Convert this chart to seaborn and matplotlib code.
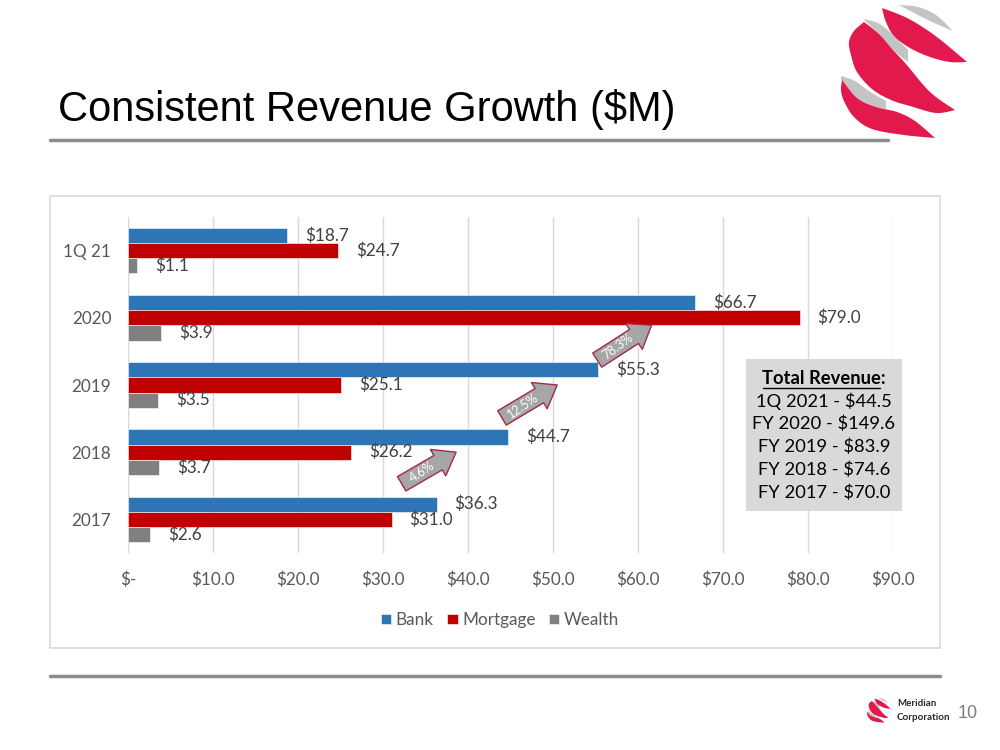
import matplotlib
matplotlib.use("Agg")
import matplotlib.pyplot as plt
import numpy as np
import pandas as pd
import seaborn as sns
from matplotlib.lines import Line2D
from matplotlib.patches import Polygon, Rectangle

periods = ["1Q 21", "2020", "2019", "2018", "2017"]
segments = ["Bank", "Mortgage", "Wealth"]
bank = [18.7, 66.7, 55.3, 44.7, 36.3]
mortgage = [24.7, 79.0, 25.1, 26.2, 31.0]
wealth = [1.1, 3.9, 3.5, 3.7, 2.6]
x_ticks = [0, 10, 20, 30, 40, 50, 60, 70, 80, 90]
x_tick_labels = ["$-", "$10.0", "$20.0", "$30.0", "$40.0", "$50.0",
                 "$60.0", "$70.0", "$80.0", "$90.0"]
growth_labels = ["4.6%", "12.5%", "78.3%"]
total_lines = ["1Q 2021 - $44.5", "FY 2020 - $149.6", "FY 2019 - $83.9",
               "FY 2018 - $74.6", "FY 2017 - $70.0"]

colors = {"Bank": "#2E75B6", "Mortgage": "#C00000", "Wealth": "#808080"}

sns.set_style("white")
plt.rcParams["font.family"] = ["Lato", "DejaVu Sans"]

df = pd.DataFrame({
  "period": periods * 3,
  "segment": [s for s in segments for _ in periods],
  "revenue": bank + mortgage + wealth,
})

fig = plt.figure(figsize=(10, 7.5), dpi=100)
W, H = 1000, 750


def fig_xy(px, py):
  return px / W, 1 - py / H


# chart frame
fig.patches.append(Rectangle(fig_xy(50, 648), 890 / W, 452 / H, transform=fig.transFigure,
                             fill=False, ec="#D9D9D9", lw=1.2))

ax = fig.add_axes([128 / W, 1 - 553 / H, 765 / W, 336 / H])
sns.barplot(data=df, y="period", x="revenue", hue="segment", order=periods,
            hue_order=segments, palette=colors, orient="h", width=0.68,
            saturation=1, ax=ax, legend=True, edgecolor="white", linewidth=0.4)

ax.set_xlim(0, 90)
ax.set_xticks(x_ticks)
ax.set_xticklabels(x_tick_labels)
ax.set_xlabel("")
ax.set_ylabel("")
ax.grid(axis="x", color="#D9D9D9", lw=1)
ax.set_axisbelow(True)
for side in ["top", "right", "bottom", "left"]:
  ax.spines[side].set_visible(False)
ax.axvline(0, color="#D9D9D9", lw=1, zorder=0)
ax.tick_params(axis="x", length=0, pad=13, labelsize=12.3, labelcolor="#595959")
ax.tick_params(axis="y", length=0, pad=12, labelsize=12.3, labelcolor="#595959")

for cont in ax.containers:
  ax.bar_label(cont, fmt="${:.1f}", padding=13, fontsize=12.3, color="#404040")

handles, labels = ax.get_legend_handles_labels()
ax.get_legend().remove()
fig.legend(handles, labels, loc="center", bbox_to_anchor=fig_xy(500, 620), ncol=3,
           frameon=False, fontsize=12.3, handlelength=0.6, handleheight=0.6,
           handletextpad=0.25, columnspacing=0.8, labelcolor="#595959")

# growth arrows (tail, tip in data coords)
arrow_tails = [(32.2, 3.47), (44.0, 2.49), (55.2, 1.63)]
arrow_tips = [(38.6, 3.0), (50.5, 2.0), (61.6, 1.11)]
for lab, tail, tip in zip(growth_labels, arrow_tails, arrow_tips):
  ax.annotate("", xy=tip, xytext=tail,
              arrowprops=dict(arrowstyle="simple,head_length=0.75,head_width=1.1,tail_width=0.6",
                              mutation_scale=20, fc="#A6A6A6", ec="#A32A4C", lw=1,
                              shrinkA=0, shrinkB=0), zorder=5)
  p0 = ax.transData.transform(tail)
  p1 = ax.transData.transform(tip)
  ang = np.degrees(np.arctan2(p1[1] - p0[1], p1[0] - p0[0]))
  mx = tail[0] + 0.38 * (tip[0] - tail[0])
  my = tail[1] + 0.38 * (tip[1] - tail[1])
  ax.text(mx, my, lab, rotation=ang + 4, rotation_mode="anchor", ha="center", va="center",
          color="white", fontsize=9, zorder=6)

# total revenue box
fig.patches.append(Rectangle(fig_xy(746, 511), 156 / W, 152 / H, transform=fig.transFigure,
                             fc="#D9D9D9", ec="none"))
tx = 824 / W
fig.text(tx, 1 - 378 / H, "Total Revenue:", ha="center", va="center",
         fontsize=13.2, fontweight="bold", color="black")
fig.lines.append(Line2D([763 / W, 880 / W], [1 - 388 / H, 1 - 388 / H],
                        transform=fig.transFigure, color="black", lw=1))
for i, line in enumerate(total_lines):
  fig.text(tx, 1 - (401 + 23 * i) / H, line, ha="center", va="center",
           fontsize=13.2, color="black")

# title and rules
fig.text(58 / W, 1 - 110 / H, "Consistent Revenue Growth ($M)", ha="left", va="center",
         fontsize=30, family="Liberation Sans", color="black")
fig.lines.append(Line2D([50 / W, 888 / W], [1 - 140 / H] * 2, transform=fig.transFigure,
                        color="#8C8C8C", lw=2.5))
fig.lines.append(Line2D([50 / W, 940 / W], [1 - 676 / H] * 2, transform=fig.transFigure,
                        color="#8C8C8C", lw=2.5))


def smooth(pts, n=12):
  # Catmull-Rom through the outline points
  pts = np.asarray(pts, float)
  ext = np.vstack([pts[0], pts, pts[-1]])
  out = []
  for i in range(1, len(ext) - 2):
    p0, p1, p2, p3 = ext[i - 1], ext[i], ext[i + 1], ext[i + 2]
    for t in np.linspace(0, 1, n, endpoint=False):
      t2, t3 = t * t, t * t * t
      out.append(0.5 * (2 * p1 + (-p0 + p2) * t + (2 * p0 - 5 * p1 + 4 * p2 - p3) * t2
                        + (-p0 + 3 * p1 - 3 * p2 + p3) * t3))
  out.append(pts[-1])
  return np.array(out)


def shape(lg, upper, lower, color):
  outline = np.vstack([smooth(upper), smooth(lower)[::-1]])
  lg.add_patch(Polygon(outline, closed=True, fc=color, ec="none"))


logo_grey = [
  ([(899, 5), (918, 7), (936, 15), (953, 31)], [(899, 5), (914, 13), (932, 22), (953, 31)]),
  ([(863, 19), (878, 23), (892, 34), (908, 50)], [(863, 19), (879, 34), (893, 50), (908, 62)]),
  ([(841, 76), (855, 81), (869, 91), (886, 101)], [(841, 80), (857, 98), (876, 107), (886, 109)]),
]
logo_red = [
  ([(882, 8), (905, 17), (924, 28), (942, 41), (967, 62)],
   [(882, 8), (886, 22), (894, 36), (910, 48), (930, 57), (950, 62), (967, 62)]),
  ([(864, 22), (879, 34), (893, 50), (906, 64), (930, 92), (955, 110)],
   [(864, 22), (854, 31), (849, 42), (851, 55), (857, 72), (872, 89), (891, 100),
    (910, 106), (936, 113), (955, 110)]),
  ([(842, 80), (857, 98), (876, 107), (897, 112), (915, 121), (935, 138)],
   [(842, 80), (841, 90), (844, 101), (854, 117), (872, 129), (904, 135), (935, 138)]),
]


def draw_logo(rect):
  lg = fig.add_axes(rect)
  lg.set_xlim(835, 980)
  lg.set_ylim(145, 0)
  lg.axis("off")
  for up, low in logo_grey:
    shape(lg, up, low, "#C4C4C4")
  for up, low in logo_red:
    shape(lg, up, low, "#E2194C")


draw_logo([835 / W, 1 - 145 / H, 145 / W, 145 / H])
draw_logo([866 / W, 1 - 724 / H, 27 / W, 27 / H])
fig.text(897 / W, 1 - 703 / H, "Meridian", fontsize=7, fontweight="bold",
         ha="left", va="center", color="#262626")
fig.text(897 / W, 1 - 718 / H, "Corporation", fontsize=7, fontweight="bold",
         ha="left", va="center", color="#262626")
fig.text(958 / W, 1 - 713 / H, "10", fontsize=13, ha="left", va="center",
         color="#7F7F7F", family="Liberation Sans")

fig.savefig("out.png", dpi=100)
